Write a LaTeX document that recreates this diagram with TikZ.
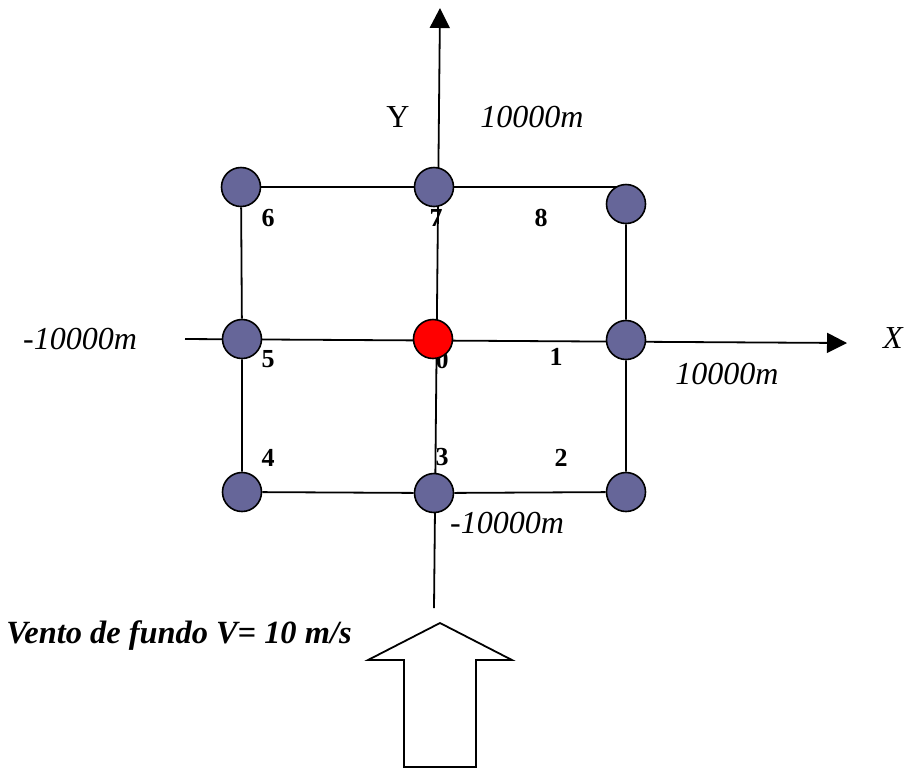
\documentclass[tikz,border=0pt]{standalone}
\usepackage{fontspec}
\setmainfont{Liberation Serif}
\usetikzlibrary{arrows.meta,positioning,backgrounds}
\definecolor{GridNode}{HTML}{666699}
\definecolor{OriginRed}{HTML}{FF0000}

\begin{document}
\begin{tikzpicture}[
    x={(0.5pt,0)}, y={(0,-0.5pt)},
    point/.style={
      circle,
      draw=black,
      line width=0.8pt,
      fill=#1,
      minimum size=19.5pt,
      inner sep=0pt
    },
    num/.style={
      font=\fontsize{13}{15}\selectfont\bfseries
    },
    dist/.style={
      font=\fontsize{16}{19}\selectfont\itshape
    },
    axis/.style={
      -{Triangle[length=10pt,width=10pt]},
      line width=0.9pt
    },
    edge/.style={
      line width=0.9pt
    }
  ]
  \useasboundingbox (0,0) rectangle (909,768);

  % grid points
  \node[point=GridNode]  (p6) at (241,187) {};
  \node[point=GridNode]  (p7) at (434,187) {};
  \node[point=GridNode]  (p8) at (626,204) {};
  \node[point=GridNode]  (p5) at (242,339) {};
  \node[point=OriginRed] (p0) at (433,339) {};
  \node[point=GridNode]  (p1) at (626,340) {};
  \node[point=GridNode]  (p4) at (242,492) {};
  \node[point=GridNode]  (p3) at (434,493) {};
  \node[point=GridNode]  (p2) at (626,492) {};

  % axis ends
  \coordinate (xleft)  at (185,339);
  \coordinate (xright) at (847,343);
  \coordinate (ybot)   at (434,608);
  \coordinate (ytop)   at (440,8);

  \begin{scope}[on background layer]
    % grid lines
    \draw[edge] (p6) -- (p7) -- (p7 -| p8);
    \draw[edge] (p8) -- (p1) -- (p2) -- (p3) -- (p4) -- (p5) -- (p6);

    % axes
    \draw[axis] (xleft) -- (xright);
    \draw[axis] (ybot) -- (ytop);

    % point numbers
    \node[num] (n6) at (268,218) {6};
    \node[num] (n7) at (436,218) {7};
    \node[num] (n8) at (541,218) {8};
    \node[num] (n5) at (268,359) {5};
    \node[num] (n0) at (442,360) {0};
    \node[num] (n1) at (556,357) {1};
    \node[num] (n4) at (268,458) {4};
    \node[num] (n3) at (442,457) {3};
    \node[num] (n2) at (561,458) {2};
  \end{scope}

  % axis labels
  \node[font=\fontsize{16}{19}\selectfont] (ylab) at (398,117) {Y};
  \node[dist] (xlab)  at (893,338) {X};
  \node[dist] (ymax)  at (532,117) {10000m};
  \node[dist] (xmin)  at (80,339)  {-10000m};
  \node[dist] (xmax)  at (727,374) {10000m};
  \node[dist] (ymin)  at (507,523) {-10000m};

  % wind
  \node[font=\fontsize{16.2}{19}\selectfont\bfseries\itshape] (wind) at (179,636) {Vento de fundo V= 10 m/s};
  \draw[line width=0.9pt, fill=white]
    (404,767) -- (404,660) -- (368,660) -- (440,623) -- (512,660)
    -- (476,660) -- (476,767) -- cycle;

\end{tikzpicture}
\end{document}
